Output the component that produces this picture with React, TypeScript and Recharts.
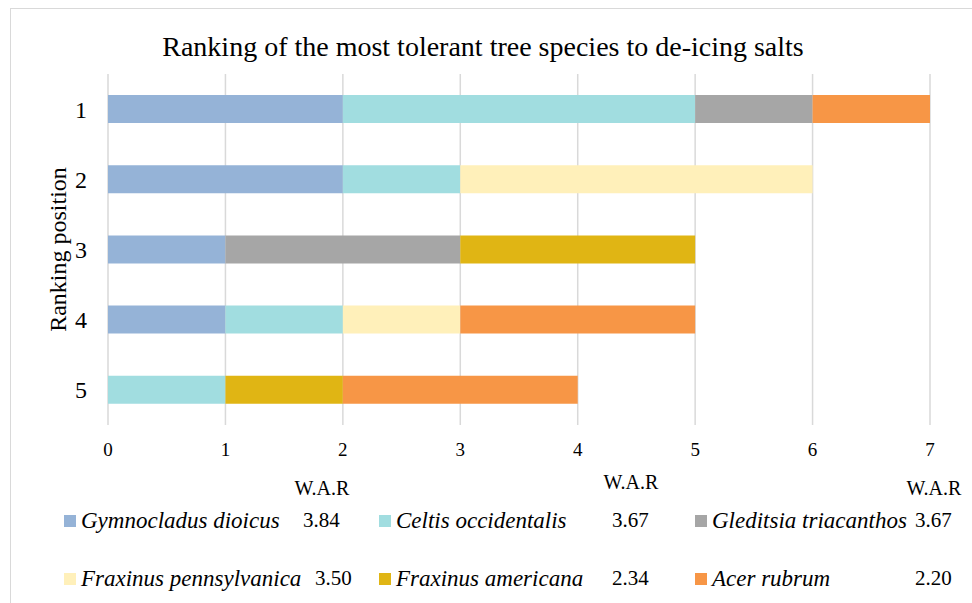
import { Bar, BarChart, CartesianGrid, XAxis, YAxis } from "recharts";

const positions = ["1", "2", "3", "4", "5"];
const gymnocladus = [2, 2, 1, 1, 0];
const celtis = [3, 1, 0, 1, 1];
const gleditsia = [1, 0, 2, 0, 0];
const fraxPenn = [0, 3, 0, 1, 0];
const fraxAm = [0, 0, 2, 0, 1];
const acer = [1, 0, 0, 2, 2];
const xTicks = [0, 1, 2, 3, 4, 5, 6, 7];

const speciesNames = [
	"Gymnocladus dioicus",
	"Celtis occidentalis",
	"Gleditsia triacanthos",
	"Fraxinus pennsylvanica",
	"Fraxinus americana",
	"Acer rubrum",
];
const warValues = ["3.84", "3.67", "3.67", "3.50", "2.34", "2.20"];
const colors = ["#95B3D7", "#A1DDE0", "#A6A6A6", "#FFF0BA", "#E0B514", "#F79646"];

const seriesValues = [gymnocladus, celtis, gleditsia, fraxPenn, fraxAm, acer];
const keys = ["g", "c", "gl", "fp", "fa", "ar"];

const data = positions.map((p, i) => {
	const row: Record<string, string | number> = { pos: p };
	keys.forEach((k, j) => {
		row[k] = seriesValues[j][i];
	});
	return row;
});

// legend layout (3 columns x 2 rows)
const markerX = [64, 379, 695];
const rowY = [521, 579];
const valueX = [
	[303, 612, 915],
	[315, 612, 915],
];
const warLabels = [
	{ x: 322, y: 488 },
	{ x: 631, y: 482 },
	{ x: 934, y: 488 },
];

const FONT = "Liberation Serif, Tinos, DejaVu Serif, serif";

export default function App() {
	return (
		<div
			style={{
				position: "absolute",
				left: 0,
				top: 0,
				width: 972,
				height: 603,
				background: "#fff",
				fontFamily: FONT,
				color: "#000",
				overflow: "hidden",
			}}
		>
			<div
				style={{
					position: "absolute",
					left: 10,
					top: 8,
					width: 980,
					height: 620,
					border: "1.5px solid #D9D9D9",
				}}
			/>
			<div
				style={{
					position: "absolute",
					left: 0,
					top: 28,
					width: 966,
					textAlign: "center",
					fontSize: 28,
					lineHeight: "38px",
				}}
			>
				Ranking of the most tolerant tree species to de-icing salts
			</div>
			<div style={{ position: "absolute", left: 0, top: 0 }}>
				<BarChart
					width={972}
					height={603}
					data={data}
					layout="vertical"
					margin={{ top: 74, right: 42, bottom: 138, left: 0 }}
				>
					<CartesianGrid horizontal={false} stroke="#D9D9D9" strokeWidth={1.5} />
					<XAxis
						type="number"
						domain={[0, 7]}
						ticks={xTicks}
						axisLine={false}
						tickLine={false}
						tickMargin={12}
						height={40}
						tick={{ fill: "#000", fontSize: 19, fontFamily: FONT }}
						interval={0}
					/>
					<YAxis
						type="category"
						dataKey="pos"
						width={108}
						axisLine={false}
						tickLine={false}
						tickMargin={15}
						tick={{ fill: "#000", fontSize: 24, fontFamily: FONT }}
						label={{
							value: "Ranking position",
							angle: -90,
							position: "insideLeft",
							offset: 57,
							style: { fill: "#000", fontSize: 24, fontFamily: FONT, textAnchor: "middle" },
						}}
					/>
					{keys.map((k, j) => (
						<Bar
							key={k}
							dataKey={k}
							stackId="a"
							fill={colors[j]}
							barSize={28}
							isAnimationActive={false}
						/>
					))}
				</BarChart>
			</div>
			{warLabels.map((w, i) => (
				<div
					key={i}
					style={{
						position: "absolute",
						left: w.x - 40,
						top: w.y - 12,
						width: 80,
						textAlign: "center",
						fontSize: 20,
						lineHeight: "24px",
					}}
				>
					W.A.R
				</div>
			))}
			{speciesNames.map((name, i) => {
				const col = i % 3;
				const row = Math.floor(i / 3);
				return (
					<div key={name}>
						<div
							style={{
								position: "absolute",
								left: markerX[col],
								top: rowY[row] - 6,
								width: 12,
								height: 12,
								background: colors[i],
							}}
						/>
						<div
							style={{
								position: "absolute",
								left: markerX[col] + 17,
								top: rowY[row] - 14,
								fontSize: 23,
								lineHeight: "28px",
								fontStyle: "italic",
								whiteSpace: "nowrap",
							}}
						>
							{name}
						</div>
						<div
							style={{
								position: "absolute",
								left: valueX[row][col],
								top: rowY[row] - 14,
								fontSize: 21,
								lineHeight: "26px",
								whiteSpace: "nowrap",
							}}
						>
							{warValues[i]}
						</div>
					</div>
				);
			})}
		</div>
	);
}
